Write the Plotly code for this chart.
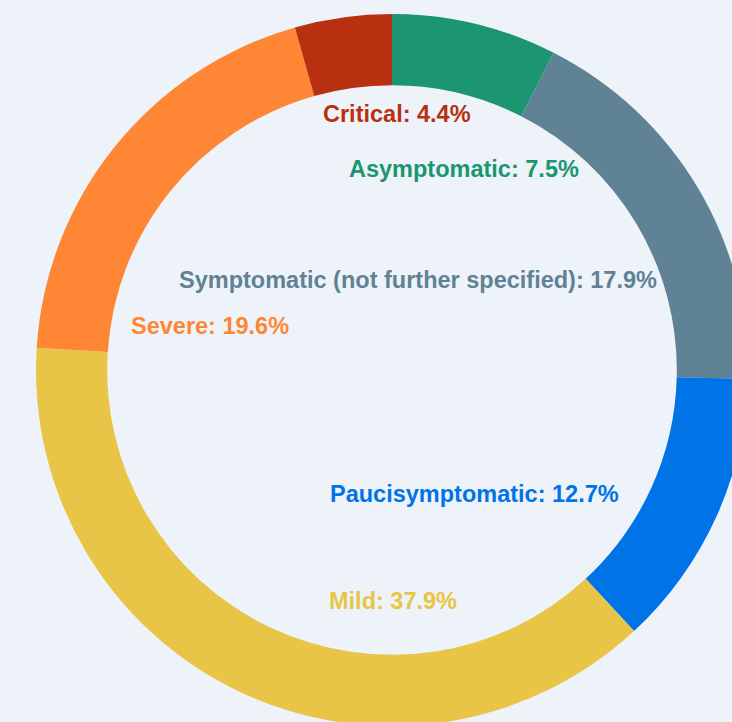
import plotly.graph_objects as go

categories = ["Asymptomatic", "Symptomatic (not further specified)", "Paucisymptomatic",
              "Mild", "Severe", "Critical"]
values = [7.5, 17.9, 12.7, 37.9, 19.6, 4.4]
colors = ["#1B9670", "#5F8294", "#0073E6", "#E8C547", "#FE8634", "#B8300F"]

# label positions (pixel centres inside the hole)
label_px = {
    "Critical": (397, 114),
    "Asymptomatic": (464, 169),
    "Symptomatic (not further specified)": (418, 280),
    "Severe": (210, 326),
    "Paucisymptomatic": (474, 494),
    "Mild": (393, 601),
}

W, H = 784, 740
MT, MB = 14, 14

fig = go.Figure(go.Pie(
    labels=categories,
    values=values,
    hole=0.8,
    sort=False,
    direction="clockwise",
    rotation=0,
    marker=dict(colors=colors, line=dict(width=0)),
    textinfo="none",
    showlegend=False,
))

anns = []
for cat, val, col in zip(categories, values, colors):
    px, py = label_px[cat]
    anns.append(dict(
        x=px / W, y=1 - (py - MT) / (H - MT - MB), xref="paper", yref="paper",
        xanchor="center", yanchor="middle", showarrow=False,
        text=f"<b>{cat}: {val:.1f}%</b>",
        font=dict(family="Liberation Sans, Arial, sans-serif", size=23.5, color=col),
    ))

fig.update_layout(
    width=W, height=H,
    margin=dict(t=MT, b=MB, l=0, r=0),
    paper_bgcolor="#EEF3FA",
    plot_bgcolor="#EEF3FA",
    annotations=anns,
)

fig.write_html("out.html", config={"displayModeBar": False}, post_script=(
    "document.body.style.margin='0';document.body.style.overflow='hidden';"
    "document.documentElement.style.overflow='hidden';"
    "document.body.style.background='#EEF3FA';"
))
